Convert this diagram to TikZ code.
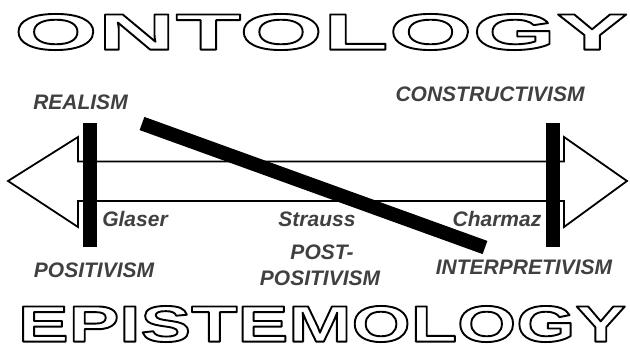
\documentclass[tikz,border=0pt]{standalone}
\usepackage{fontspec}
\setmainfont{Liberation Sans}
\newfontfamily\ontfont[FakeStretch=2.11]{Liberation Sans}
\newfontfamily\epifont[FakeStretch=1.49]{Liberation Sans}
\definecolor{labgray}{HTML}{404040}
\newcommand{\hollowtext}[1]{\special{pdf:literal direct 1 Tr 1.9 w 1 j}#1\special{pdf:literal direct 0 Tr}}
\tikzset{
  lab/.style={font=\fontsize{21}{25}\selectfont\bfseries\itshape, text=labgray, inner sep=0pt, anchor=base},
  titletext/.style={inner sep=0pt, anchor=center},
  ontstyle/.style={titletext, font=\fontsize{51}{51}\selectfont\ontfont\bfseries},
  epistyle/.style={titletext, font=\fontsize{51}{51}\selectfont\epifont\bfseries},
  bar/.style={fill=black, draw=none},
}
\begin{document}
\begin{tikzpicture}[x=1pt,y=-1pt]
\useasboundingbox (0,0) rectangle (630,350);
% outlined titles
\node[ontstyle] (onto) at (321,32) {\hollowtext{ONTOLOGY}};
\node[epistyle] (epis) at (322,324) {\hollowtext{EPISTEMOLOGY}};
% double arrow
\draw[line width=1.8pt, line join=miter, fill=white]
  (8,181) -- (78,137) -- (78,161.5) -- (564,161.5) -- (564,137) -- (627,181)
  -- (564,227) -- (564,201) -- (78,201) -- (78,227) -- cycle;
% vertical bars
\fill[bar] (83,123) rectangle (97,247);
\fill[bar] (545.5,123) rectangle (559.5,247);
% diagonal bar
\coordinate (d1) at (142,123.5);
\coordinate (d2) at (485,247.5);
\draw[line width=14pt, line cap=butt] (d1) -- (d2);
% labels
\node[lab] (realism) at (80.5,110) {REALISM};
\node[lab] (constr) at (490,102) {CONSTRUCTIVISM};
\node[lab] (glaser) at (135,227) {Glaser};
\node[lab] (strauss) at (317,227) {Strauss};
\node[lab] (charmaz) at (497,227) {Charmaz};
\node[lab] (posit) at (94,278) {POSITIVISM};
\node[lab] (post) at (322,260) {POST-};
\node[lab] (postpos) at (320,286) {POSITIVISM};
\node[lab] (interp) at (524,275) {INTERPRETIVISM};
\end{tikzpicture}
\end{document}
